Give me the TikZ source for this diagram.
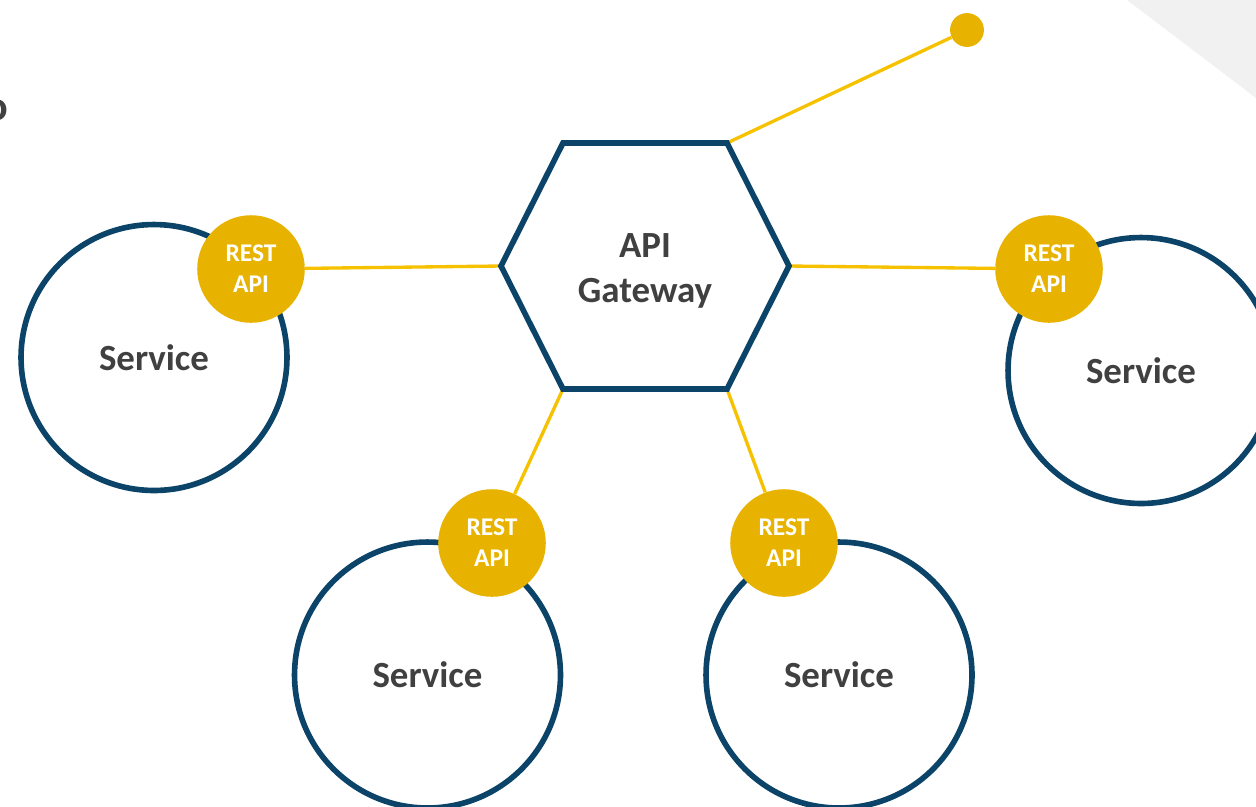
\documentclass[tikz,border=0pt]{standalone}
\usepackage{fontspec}
\setmainfont{Carlito}
\definecolor{navy}{HTML}{0B4468}
\definecolor{gold}{HTML}{E8B300}
\definecolor{wire}{HTML}{F6C200}
\definecolor{ink}{HTML}{404040}
\definecolor{cornergray}{HTML}{F1F1F1}
\begin{document}
\begin{tikzpicture}[x=0.02cm,y=-0.02cm,
  svc/.style={circle,draw=navy,line width=3.2pt,minimum size=267*0.5669pt,inner sep=0pt,
    font=\bfseries\fontsize{21}{25}\selectfont,text=ink},
  rest/.style={circle,fill=gold,minimum size=108*0.5669pt,inner sep=0pt,align=center,
    font=\bfseries\fontsize{14.5}{17.6}\selectfont,text=white},
  link/.style={draw=wire,line width=1.9pt},
  hexline/.style={draw=navy,line width=3.2pt,line join=miter}]
\useasboundingbox (0,0) rectangle (1256,806);
\begin{scope}
\clip (0,0) rectangle (1256,806);
% background corner
\fill[cornergray] (1127,0) -- (1256,0) -- (1256,98) -- cycle;
% partial heading glyph at the left edge
\node[anchor=east,inner sep=0pt,text=ink,font=\bfseries\fontsize{24}{28}\selectfont] (hd) at (9,110) {o};

% gateway corners
\coordinate (g1) at (563,143);
\coordinate (g2) at (727,143);
\coordinate (g3) at (789,266);
\coordinate (g4) at (727,389);
\coordinate (g5) at (563,389);
\coordinate (g6) at (501,266);

% services
\node[svc] (s1) at (154,357.5) {Service};
\node[svc] (s2) at (1141,370.5) {Service};
\node[svc] (s3) at (427.5,675) {Service};
\node[svc] (s4) at (839,675) {Service};

% REST endpoints
\node[rest] (r1) at (251,269) {REST\\API};
\node[rest] (r2) at (1049,269) {REST\\API};
\node[rest] (r3) at (492,543) {REST\\API};
\node[rest] (r4) at (784,543) {REST\\API};

% external client dot
\node[circle,fill=gold,minimum size=34*0.5669pt,inner sep=0pt] (ext) at (967,30) {};

% connectors
\draw[link] (g6) -- (r1);
\draw[link] (g3) -- (r2);
\draw[link] (g5) -- (r3);
\draw[link] (g4) -- (r4);
\draw[link] (g2) -- (ext);

% gateway outline and label
\draw[hexline,fill=white] (g1) -- (g2) -- (g3) -- (g4) -- (g5) -- (g6) -- cycle;
\node[align=center,text=ink,font=\bfseries\fontsize{21}{25.5}\selectfont] (gw) at (645,271) {API\\Gateway};
\end{scope}
\end{tikzpicture}
\end{document}
